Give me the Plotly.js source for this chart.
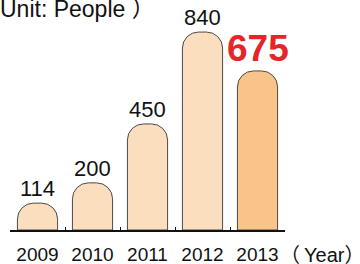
<!DOCTYPE html>
<html><head><meta charset="utf-8">
<script src="https://cdn.plot.ly/plotly-3.0.1.min.js"></script>
<style>html,body{margin:0;padding:0;background:#fff}#c{width:360px;height:264px}</style>
</head><body><div id="c"></div>
<script>
const years = ['2009','2010','2011','2012','2013'];
const people = [114, 200, 450, 840, 675];
const barColors = ['#FBDEBD','#FBDEBD','#FBDEBD','#FBDEBD','#F8C48A'];
const labelColors = ['#111','#111','#111','#111','#E52528'];
const labelSizes = [22,22,22,22,37];
const labelBold = [false,false,false,false,true];

const FONT = 'Liberation Sans, Arial, sans-serif';
const CJK = '<span style="font-family:Noto Sans CJK SC">';
const unitText = CJK + '（</span>Unit: People ' + CJK + '）</span>';
const yearText = CJK + '（</span>\u2009Year' + CJK + '）</span>';

const annotations = years.map((y,i)=>({
  x: i, y: people[i], xref:'x', yref:'y',
  text: labelBold[i] ? '<b>'+people[i]+'</b>' : String(people[i]),
  showarrow:false, yanchor:'bottom', xanchor:'center',
  yshift: 0,
  font:{family:FONT, size:labelSizes[i], color:labelColors[i]}
}));
annotations.push({
  xref:'paper', yref:'paper', x:-0.127, y:1, xanchor:'left', yanchor:'top',
  yshift: 12, text: unitText, showarrow:false,
  font:{family:FONT, size:23, color:'#111'}
});
annotations.push({
  xref:'paper', yref:'paper', x:1.0, y:0, xanchor:'left', yanchor:'top',
  xshift: -7, yshift:-7, text: yearText, showarrow:false,
  font:{family:FONT, size:20, color:'#111'}
});

Plotly.newPlot('c', [{
  type:'bar', x: years, y: people,
  marker:{color: barColors, line:{color:'#4a4a4a', width:1}, cornerradius:16},
  hoverinfo:'none'
}], {
  width:360, height:264,
  margin:{l:10, r:75, t:0, b:34},
  paper_bgcolor:'#fff', plot_bgcolor:'#fff',
  bargap: 0.27,
  showlegend:false,
  xaxis:{
    type:'category', range:[-0.5,4.5], showgrid:false, zeroline:false,
    showline:true, linecolor:'#111', linewidth:1.5,
    ticks:'inside', tickson:'boundaries', ticklen:3, tickcolor:'#111', tickwidth:1,
    ticklabelstandoff: 7,
    tickfont:{family:FONT, size:19, color:'#111'}, fixedrange:true
  },
  yaxis:{
    range:[0, 976], visible:false, showgrid:false, zeroline:false, fixedrange:true
  },
  annotations: annotations
}, {displayModeBar:false, staticPlot:true});
</script></body></html>
